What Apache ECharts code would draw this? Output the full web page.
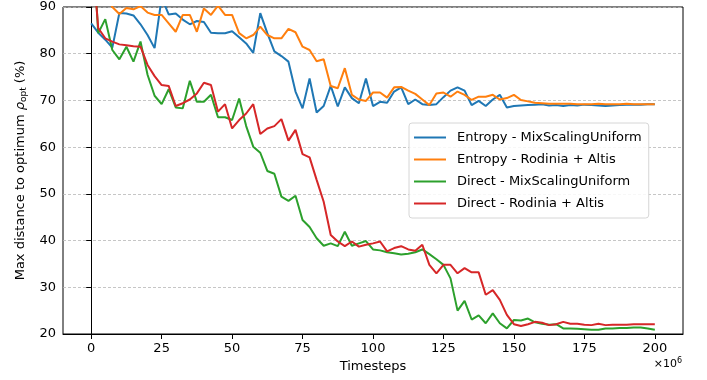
<!DOCTYPE html>
<html>
<head>
<meta charset="utf-8">
<script src="https://cdn.jsdelivr.net/npm/echarts@6/dist/echarts.min.js"></script>
<style>
  html, body { margin: 0; padding: 0; background: #fff; }
  #main { width: 707px; height: 380px; }
</style>
</head>
<body>
<div id="main"></div>
<script>
// timesteps (x 10^6)
const timesteps = [
  0, 2.5, 5, 7.5, 10, 12.5, 15, 17.5, 20, 22.5, 25, 27.5, 30, 32.5, 35, 37.5, 40, 42.5, 45, 47.5,
  50, 52.5, 55, 57.5, 60, 62.5, 65, 67.5, 70, 72.5, 75, 77.5, 80, 82.5, 85, 87.5, 90, 92.5, 95, 97.5,
  100, 102.5, 105, 107.5, 110, 112.5, 115, 117.5, 120, 122.5, 125, 127.5, 130, 132.5, 135, 137.5, 140, 142.5, 145, 147.5,
  150, 152.5, 155, 157.5, 160, 162.5, 165, 167.5, 170, 172.5, 175, 177.5, 180, 182.5, 185, 187.5, 190, 192.5, 195, 197.5,
  200
];

const seriesNames = [
  "Entropy - MixScalingUniform",
  "Entropy - Rodinia + Altis",
  "Direct - MixScalingUniform",
  "Direct - Rodinia + Altis",
];

const entropyMix = [
  86.5, 84.5, 83, 81.3, 88.7, 88.6, 88.2, 86.3, 84, 81.2, 92, 88.4, 88.6, 87.3, 86.3, 87, 86.8, 84.5, 84.4, 84.4,
  84.8, 83.5, 82.2, 80.2, 88.7, 84.4, 80.5, 79.5, 78.3, 71.9, 68.3, 74.7, 67.4, 68.8, 73.1, 68.7, 72.8, 70.5, 69.4, 74.7,
  68.8, 69.7, 69.5, 71.9, 72.8, 69.2, 70.2, 69.2, 69, 69.2, 70.7, 72.1, 72.8, 72.1, 69, 69.9, 68.8, 70.2, 71.2, 68.5,
  68.8, 68.9, 69, 69.1, 69.2, 68.9, 69, 68.8, 69, 68.9, 69.1, 69, 68.9, 68.8, 68.9, 69, 69.1, 69.1, 69.1, 69.2,
  69.2
];

const entropyRA = [
  100, 96.5, 93, 90, 88.5, 89.8, 89.5, 90.2, 88.8, 88.3, 88.3, 86.5, 84.7, 88.3, 88.3, 84.7, 89.7, 88.3, 90.3, 88.3,
  88.3, 84.4, 83.3, 84, 85.8, 84, 83.3, 83.3, 85.3, 84.6, 81.5, 80.8, 78.4, 78.8, 73.1, 72.6, 76.9, 71.2, 70.2, 69.9,
  71.7, 71.7, 70.6, 72.8, 72.9, 72.1, 71.4, 70.2, 69, 71.5, 71.7, 70.8, 71.9, 71.2, 70.1, 70.8, 70.8, 71.2, 70.2, 70.5,
  71.2, 70.1, 69.8, 69.5, 69.4, 69.3, 69.3, 69.3, 69.3, 69.2, 69.2, 69.2, 69.3, 69.2, 69.2, 69.2, 69.3, 69.2, 69.2, 69.2,
  69.2
];

const directMix = [
  110, 84.4, 87.4, 80.8, 78.8, 81.5, 78.3, 82.6, 75.5, 71, 69.2, 72.4, 68.5, 68.3, 74.2, 69.7, 69.7, 71.2, 66.4, 66.4,
  65.8, 70.4, 64.5, 60.1, 58.8, 54.9, 54.3, 49.4, 48.5, 49.6, 44.4, 42.9, 40.5, 38.9, 39.4, 38.8, 41.9, 38.9, 39.4, 39.9,
  38.1, 37.9, 37.5, 37.3, 37, 37.2, 37.5, 38.1, 37.1, 36, 34.8, 31.9, 25, 27.1, 23.1, 24, 22.3, 24.4, 22.3, 21.2,
  23, 22.9, 23.3, 22.5, 22.2, 22, 22.1, 21.2, 21.2, 21.1, 21, 20.9, 20.9, 21.2, 21.2, 21.3, 21.3, 21.4, 21.4, 21.2,
  20.9
];

const directRA = [
  104, 85.5, 83.3, 82.6, 82, 81.8, 81.6, 81.5, 77.6, 75.2, 73.3, 73.1, 68.8, 69.4, 70.2, 71.5, 73.8, 73.3, 67.6, 69.2,
  64, 65.8, 67.2, 69.2, 62.8, 64, 64.5, 66, 61.4, 63.7, 58.5, 57.8, 53, 48.3, 41.2, 39.8, 38.8, 39.8, 38.7, 39.1,
  39.4, 39.8, 37.7, 38.4, 38.8, 38.1, 37.8, 39.1, 34.8, 33, 34.8, 34.8, 33, 34.1, 33.2, 33.2, 28.4, 29.4, 27.3, 24.1,
  22.1, 21.7, 22.1, 22.6, 22.4, 21.9, 22.1, 22.6, 22.2, 22.2, 22, 21.9, 22.2, 21.9, 22, 22, 22, 22.1, 22.1, 22.1,
  22.1
];

const xTicks = [0, 25, 50, 75, 100, 125, 150, 175, 200];
const colors = ["#1f77b4", "#ff7f0e", "#2ca02c", "#d62728"];

const font = "DejaVu Sans";
const allValues = [entropyMix, entropyRA, directMix, directRA];

var chart = echarts.init(document.getElementById("main"), null, { renderer: "canvas" });

var option = {
  animation: false,
  textStyle: { fontFamily: font },
  grid: {
    left: 63,
    right: 24,
    top: 7,
    bottom: 46,
    show: true,
    borderColor: "#000",
    borderWidth: 1,
  },
  legend: {
    orient: "vertical",
    left: 409,
    top: 123,
    icon: "rect",
    itemWidth: 32,
    itemHeight: 2,
    itemGap: 8,
    padding: [7.5, 7, 7.5, 5],
    backgroundColor: "rgba(255,255,255,0.85)",
    borderColor: "#d6d6d6",
    borderWidth: 1,
    borderRadius: 3,
    textStyle: {
      fontFamily: font,
      fontSize: 13,
      color: "#000",
      lineHeight: 14,
      padding: [0, 0, 0, 6],
    },
    data: seriesNames,
  },
  xAxis: {
    type: "value",
    min: -10,
    max: 210,
    name: "Timesteps",
    nameLocation: "middle",
    nameGap: 26,
    nameTextStyle: { fontFamily: font, fontSize: 13, color: "#000" },
    axisLine: { show: true, lineStyle: { color: "#000", width: 1 } },
    axisTick: {
      show: true,
      customValues: xTicks,
      length: 5,
      lineStyle: { color: "#000" },
    },
    axisLabel: {
      customValues: xTicks,
      margin: 8,
      fontFamily: font,
      fontSize: 13,
      color: "#000",
    },
    splitLine: { show: false },
  },
  yAxis: {
    type: "value",
    min: 20,
    max: 90,
    interval: 10,
    name: "Max distance to optimum {i|ρ}{s|opt} (%)",
    nameLocation: "middle",
    nameGap: 34,
    nameTextStyle: {
      fontFamily: font,
      fontSize: 13,
      color: "#000",
      rich: {
        i: { fontFamily: font, fontSize: 13, fontStyle: "italic", color: "#000" },
        s: { fontFamily: font, fontSize: 9, color: "#000", padding: [6, 0, 0, 0] },
      },
    },
    axisLine: { show: true, lineStyle: { color: "#000", width: 1 } },
    axisTick: { show: true, length: 5, lineStyle: { color: "#000" } },
    axisLabel: { margin: 7, fontFamily: font, fontSize: 13, color: "#000" },
    splitLine: {
      show: true,
      lineStyle: { color: "#b8b8b8", width: 0.8, type: [3, 2] },
    },
  },
  graphic: [
    {
      type: "text",
      right: 25,
      top: 357,
      style: {
        text: "×10{sup|6}",
        fontFamily: font,
        fontSize: 11,
        fill: "#000",
        rich: {
          sup: { fontFamily: font, fontSize: 8, fill: "#000", padding: [0, 0, 6, 0] },
        },
      },
    },
  ],
  series: seriesNames.map(function (name, i) {
    return {
      name: name,
      type: "line",
      symbol: "none",
      showSymbol: false,
      clip: true,
      lineStyle: { color: colors[i], width: 2 },
      itemStyle: { color: colors[i] },
      data: timesteps.map(function (t, j) {
        return [t, allValues[i][j]];
      }),
    };
  }),
};

option && chart.setOption(option);
</script>
</body>
</html>
